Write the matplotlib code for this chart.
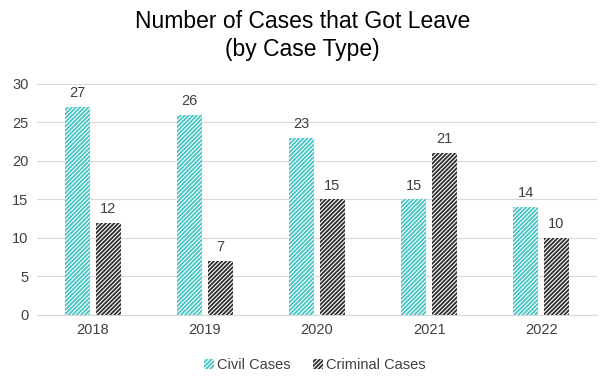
import matplotlib
matplotlib.use("Agg")
import matplotlib.pyplot as plt
import numpy as np

years = ["2018", "2019", "2020", "2021", "2022"]
civil = [27, 26, 23, 15, 14]
criminal = [12, 7, 15, 21, 10]

plt.rcParams["font.family"] = ["Liberation Sans", "DejaVu Sans"]
plt.rcParams["hatch.linewidth"] = 1.3

fig = plt.figure(figsize=(6.05, 3.85), dpi=100)
ax = fig.add_axes([0.061, 0.182, 0.926, 0.6])

x = np.arange(len(years))
w = 0.22
off = 0.137
b1 = ax.bar(x - off, civil, w, facecolor="white", edgecolor="#45C4C4",
            hatch="////////", linewidth=0, label="Civil Cases")
b2 = ax.bar(x + off, criminal, w, facecolor="white", edgecolor="#2E2E2E",
            hatch="////////", linewidth=0, label="Criminal Cases")

for bars, vals in ((b1, civil), (b2, criminal)):
    for r, v in zip(bars, vals):
        ax.text(r.get_x() + r.get_width() / 2, v + 0.9, str(v),
                ha="center", va="bottom", fontsize=10.5, color="#404040")

ax.set_xlim(-0.5, len(years) - 0.5)
ax.set_ylim(0, 30)
ax.set_yticks(range(0, 31, 5))
ax.set_xticks(x)
ax.set_xticklabels(years)
ax.grid(axis="y", color="#D9D9D9", linewidth=0.8)
ax.set_axisbelow(True)
for s in ("top", "right", "left"):
    ax.spines[s].set_visible(False)
ax.spines["bottom"].set_color("#D9D9D9")
ax.tick_params(axis="both", length=0, labelsize=10.5, colors="#404040", pad=6)

fig.suptitle("Number of Cases that Got Leave\n(by Case Type)", y=0.975,
             fontsize=16.5, linespacing=1.3)

fig.legend(loc="lower center", bbox_to_anchor=(0.52, 0.0), ncol=2,
           frameon=False, fontsize=10.5, handlelength=0.7, handleheight=0.7,
           handletextpad=0.2, columnspacing=1.5, labelcolor="#404040")

fig.savefig("out.png", dpi=100)
